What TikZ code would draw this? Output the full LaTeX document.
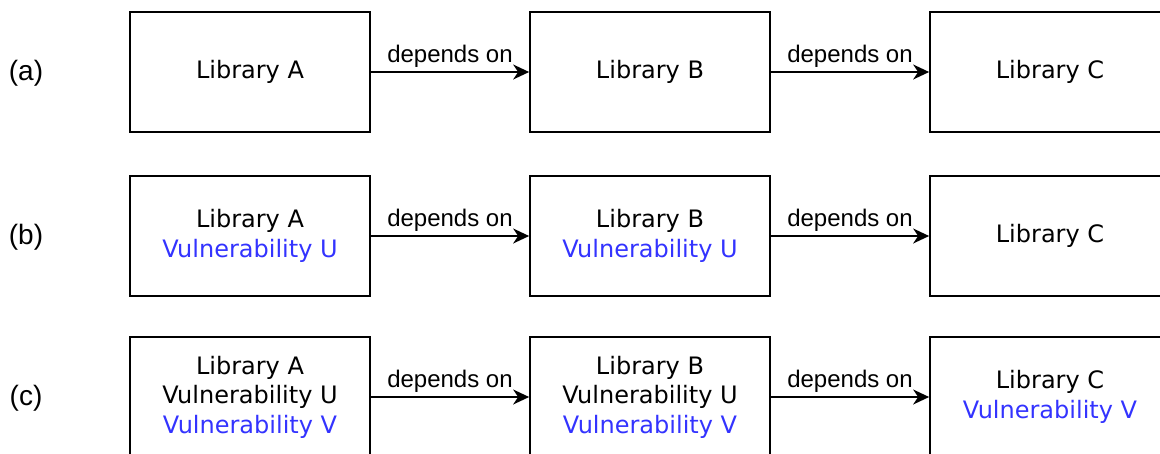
\documentclass[tikz,border=0pt]{standalone}
\usepackage{fontspec}
\setmainfont{Liberation Sans}
\newfontfamily\boxfont{DejaVu Sans}
\usetikzlibrary{arrows.meta}
\definecolor{vulnblue}{RGB}{51,51,255}
\begin{document}
\begin{tikzpicture}[x=1pt,y=-1pt,
  lib/.style={draw, line width=1.7pt, minimum width=240pt, minimum height=120pt,
    inner sep=0pt, align=center, font=\boxfont\fontsize{24}{29.5}\selectfont},
  dep/.style={-{Stealth[length=16pt,width=15pt,inset=5pt]}, line width=1.7pt},
  deplabel/.style={anchor=base, yshift=10pt, inner sep=0pt, font=\fontsize{24}{28}\selectfont},
  rowlabel/.style={font=\fontsize{28}{32}\selectfont, inner sep=0pt}]
\useasboundingbox (0,0) rectangle (1160,453);
\clip (0,0) rectangle (1160,453);

% row (a): plain dependency chain
\node[rowlabel] (la) at (26,73) {(a)};
\node[lib] (a1) at (250,72) {Library A};
\node[lib] (a2) at (650,72) {Library B};
\node[lib] (a3) at (1050,72) {Library C};
\draw[dep] (a1) -- node[deplabel] {depends on} (a2);
\draw[dep] (a2) -- node[deplabel] {depends on} (a3);

% row (b): vulnerability U in A and B
\node[rowlabel] (lb) at (26,237) {(b)};
\node[lib] (b1) at (250,236) {Library A\\\textcolor{vulnblue}{Vulnerability U}};
\node[lib] (b2) at (650,236) {Library B\\\textcolor{vulnblue}{Vulnerability U}};
\node[lib] (b3) at (1050,236) {Library C};
\draw[dep] (b1) -- node[deplabel] {depends on} (b2);
\draw[dep] (b2) -- node[deplabel] {depends on} (b3);

% row (c): vulnerability V introduced in C and propagated
\node[rowlabel] (lc) at (26,398) {(c)};
\node[lib] (c1) at (250,397) {Library A\\Vulnerability U\\\textcolor{vulnblue}{Vulnerability V}};
\node[lib] (c2) at (650,397) {Library B\\Vulnerability U\\\textcolor{vulnblue}{Vulnerability V}};
\node[lib] (c3) at (1050,397) {Library C\\\textcolor{vulnblue}{Vulnerability V}};
\draw[dep] (c1) -- node[deplabel] {depends on} (c2);
\draw[dep] (c2) -- node[deplabel] {depends on} (c3);
\end{tikzpicture}
\end{document}
